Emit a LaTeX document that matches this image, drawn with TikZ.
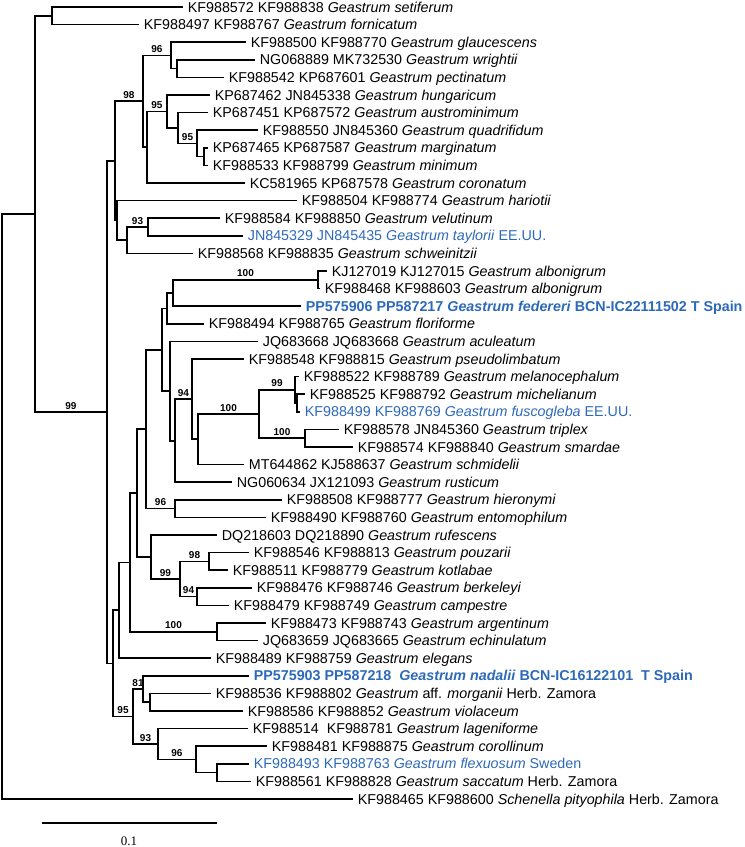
\documentclass[tikz,border=0pt]{standalone}
\usepackage{fontspec}
\setmainfont{Liberation Sans}
\newfontfamily\barfont{Liberation Serif}
\definecolor{newsp}{RGB}{45,105,185}

\begin{document}
\begin{tikzpicture}[x = 0.5pt, y = -0.5pt, line width = 0.85pt,
	leaf/.style = {anchor = west, inner xsep = 2pt, inner ysep = 0pt, text height = 6.6pt, text depth = 1.5pt, font = \fontsize{7.15}{8}\selectfont},
	boot/.style = {pos = 0.75, above, inner sep = 1pt, font = \fontsize{5}{6}\selectfont\bfseries}]
	\useasboundingbox (0, 0) rectangle (745, 847);
	% tips: row / end of branch / label
	\foreach \r/\x/\txt in {0/183/{KF988572 KF988838 \textit{Geastrum setiferum}}, 1/139/{KF988497 KF988767 \textit{Geastrum fornicatum}},
		2/246/{KF988500 KF988770 \textit{Geastrum glaucescens}}, 3/255/{NG068889 MK732530 \textit{Geastrum wrightii}},
		4/224/{KF988542 KP687601 \textit{Geastrum pectinatum}}, 5/210/{KP687462 JN845338 \textit{Geastrum hungaricum}},
		6/208/{KP687451 KP687572 \textit{Geastrum austrominimum}}, 7/258/{KF988550 JN845360 \textit{Geastrum quadrifidum}},
		8/208/{KP687465 KP687587 \textit{Geastrum marginatum}}, 9/208/{KF988533 KF988799 \textit{Geastrum minimum}},
		10/245/{KC581965 KP687578 \textit{Geastrum coronatum}}, 11/297/{KF988504 KF988774 \textit{Geastrum hariotii}},
		12/220/{KF988584 KF988850 \textit{Geastrum velutinum}}, 13/243/{\color{newsp}JN845329 JN845435 \textit{Geastrum taylorii} EE.UU.},
		14/193/{KF988568 KF988835 \textit{Geastrum schweinitzii}}, 15/327/{KJ127019 KJ127015 \textit{Geastrum albonigrum}},
		16/320/{KF988468 KF988603 \textit{Geastrum albonigrum}}, 17/301/{\color{newsp}\bfseries PP575906 PP587217 \textit{Geastrum federeri} BCN-IC22111502 T Spain},
		18/204/{KF988494 KF988765 \textit{Geastrum floriforme}}, 19/258/{JQ683668 JQ683668 \textit{Geastrum aculeatum}},
		20/244/{KF988548 KF988815 \textit{Geastrum pseudolimbatum}}, 21/299/{KF988522 KF988789 \textit{Geastrum melanocephalum}},
		22/305/{KF988525 KF988792 \textit{Geastrum michelianum}}, 23/300/{\color{newsp}KF988499 KF988769 \textit{Geastrum fuscogleba} EE.UU.},
		24/339/{KF988578 JN845360 \textit{Geastrum triplex}}, 25/353/{KF988574 KF988840 \textit{Geastrum smardae}},
		26/244/{MT644862 KJ588637 \textit{Geastrum schmidelii}}, 27/232/{NG060634 JX121093 \textit{Geastrum rusticum}},
		28/282/{KF988508 KF988777 \textit{Geastrum hieronymi}}, 29/266/{KF988490 KF988760 \textit{Geastrum entomophilum}},
		30/217/{DQ218603 DQ218890 \textit{Geastrum rufescens}}, 31/249/{KF988546 KF988813 \textit{Geastrum pouzarii}},
		32/228/{KF988511 KF988779 \textit{Geastrum kotlabae}}, 33/252/{KF988476 KF988746 \textit{Geastrum berkeleyi}},
		34/229/{KF988479 KF988749 \textit{Geastrum campestre}}, 35/266/{KF988473 KF988743 \textit{Geastrum argentinum}},
		36/258/{JQ683659 JQ683665 \textit{Geastrum echinulatum}}, 37/211/{KF988489 KF988759 \textit{Geastrum elegans}},
		38/249/{\color{newsp}\bfseries PP575903 PP587218\ \ \textit{Geastrum nadalii} BCN-IC16122101\ \ T Spain},
		39/211/{KF988536 KF988802 \textit{Geastrum} aff. \textit{morganii} Herb. Zamora}, 40/243/{KF988586 KF988852 \textit{Geastrum violaceum}},
		41/248/{KF988514\ \ KF988781 \textit{Geastrum lageniforme}}, 42/267/{KF988481 KF988875 \textit{Geastrum corollinum}},
		43/249/{\color{newsp}KF988493 KF988763 \textit{Geastrum flexuosum} Sweden}, 44/251/{KF988561 KF988828 \textit{Geastrum saccatum} Herb. Zamora},
		45/353/{KF988465 KF988600 \textit{Schenella pityophila} Herb. Zamora}}
		\node[leaf] (l\r) at (\x, 7 + 17.6*\r) {\txt};
	% inner nodes
	\coordinate (root) at (2, 506.5);
	\coordinate (nA) at (35, 214);
	\coordinate (nB) at (52, 15.8);
	\coordinate (nC) at (107, 412.2);
	\coordinate (nD) at (115, 160.9);
	\coordinate (n98) at (143, 101.3);
	\coordinate (n96) at (171, 55.4);
	\coordinate (n177) at (177, 68.6);
	\coordinate (n147) at (147, 147.25);
	\coordinate (n95a) at (167, 111.5);
	\coordinate (n178) at (178, 128);
	\coordinate (n197) at (197, 143.4);
	\coordinate (n204) at (204, 156.6);
	\coordinate (nD2) at (117, 220.4);
	\coordinate (nE) at (127, 240.2);
	\coordinate (n93) at (148, 227);
	\coordinate (n113) at (113, 663.4);
	\coordinate (n119) at (119, 610.3);
	\coordinate (n130) at (130, 562.5);
	\coordinate (n137) at (137, 493.1);
	\coordinate (n146) at (146, 429.2);
	\coordinate (n162) at (162, 349.7);
	\coordinate (n167) at (167, 308.4);
	\coordinate (n173) at (173, 293);
	\coordinate (nalb) at (318, 279.8);
	\coordinate (n170) at (170, 391);
	\coordinate (n175) at (175, 440.7);
	\coordinate (n192) at (192, 399.2);
	\coordinate (n198) at (198, 439.3);
	\coordinate (n259) at (259, 414);
	\coordinate (n295) at (295, 389.8);
	\coordinate (n297) at (297, 403);
	\coordinate (n305) at (305, 438.2);
	\coordinate (n175b) at (175, 508.6);
	\coordinate (n151) at (151, 557);
	\coordinate (n180) at (180, 579);
	\coordinate (n209) at (209, 561.4);
	\coordinate (n197b) at (197, 596.6);
	\coordinate (n217) at (217, 631.8);
	\coordinate (n133) at (133, 716.5);
	\coordinate (n143) at (143, 689);
	\coordinate (n150) at (150, 702.2);
	\coordinate (n158) at (158, 744);
	\coordinate (n196) at (196, 759.4);
	\coordinate (n217b) at (217, 772.6);
	% branches
	\foreach \p/\c in {root/nA, root/l45.west, nA/nB, nB/l0.west, nB/l1.west, nC/nD, nC/n113,
		nD/nD2, n98/n147, n96/l2.west, n96/n177, n177/l3.west, n177/l4.west, n147/l10.west,
		n95a/l5.west, n95a/n178, n178/l6.west, n197/l7.west, n197/n204, n204/l8.west, n204/l9.west,
		nD2/l11.west, nD2/nE, nE/l14.west, n93/l12.west, n93/l13.west,
		n137/n146, n137/n151, n146/n162, n162/n167, n162/n170, n167/n173, n167/l18.west,
		n173/l17.west, nalb/l15.west, nalb/l16.west, n170/l19.west, n170/n175, n175/l27.west,
		n192/l20.west, n192/n198, n198/l26.west, n295/l21.west, n295/n297, n297/l22.west,
		n297/l23.west, n305/l24.west, n305/l25.west, n175b/l28.west, n175b/l29.west,
		n151/l30.west, n209/l31.west, n209/l32.west, n197b/l33.west, n197b/l34.west,
		n217/l35.west, n217/l36.west, n130/n137, n119/n130, n119/l37.west, n113/n119,
		n143/l38.west, n143/n150, n150/l39.west, n150/l40.west, n158/l41.west, n196/l42.west,
		n196/n217b, n217b/l43.west, n217b/l44.west}
		\draw (\p) |- (\c);
	% branches with bootstrap support
	\foreach \p/\c/\b in {nA/nC/99, nD/n98/98, n98/n96/96, n147/n95a/95, n178/n197/95, nE/n93/93,
		n173/nalb/100, n175/n192/94, n198/n259/100, n259/n295/99, n259/n305/100, n146/n175b/96,
		n151/n180/99, n180/n209/98, n180/n197b/94, n130/n217/100, n113/n133/95, n133/n143/81,
		n133/n158/93, n158/n196/96}
		\draw (\p) |- (\c) node[boot] {\b};
	% scale bar
	\coordinate (sb1) at (42, 823);
	\coordinate (sb2) at (217, 823);
	\draw[line width = 0.75pt] (sb1) -- (sb2);
	\node[font = \barfont\fontsize{6.5}{7}\selectfont] (sbl) at (129, 841) {0.1};
\end{tikzpicture}
\end{document}
